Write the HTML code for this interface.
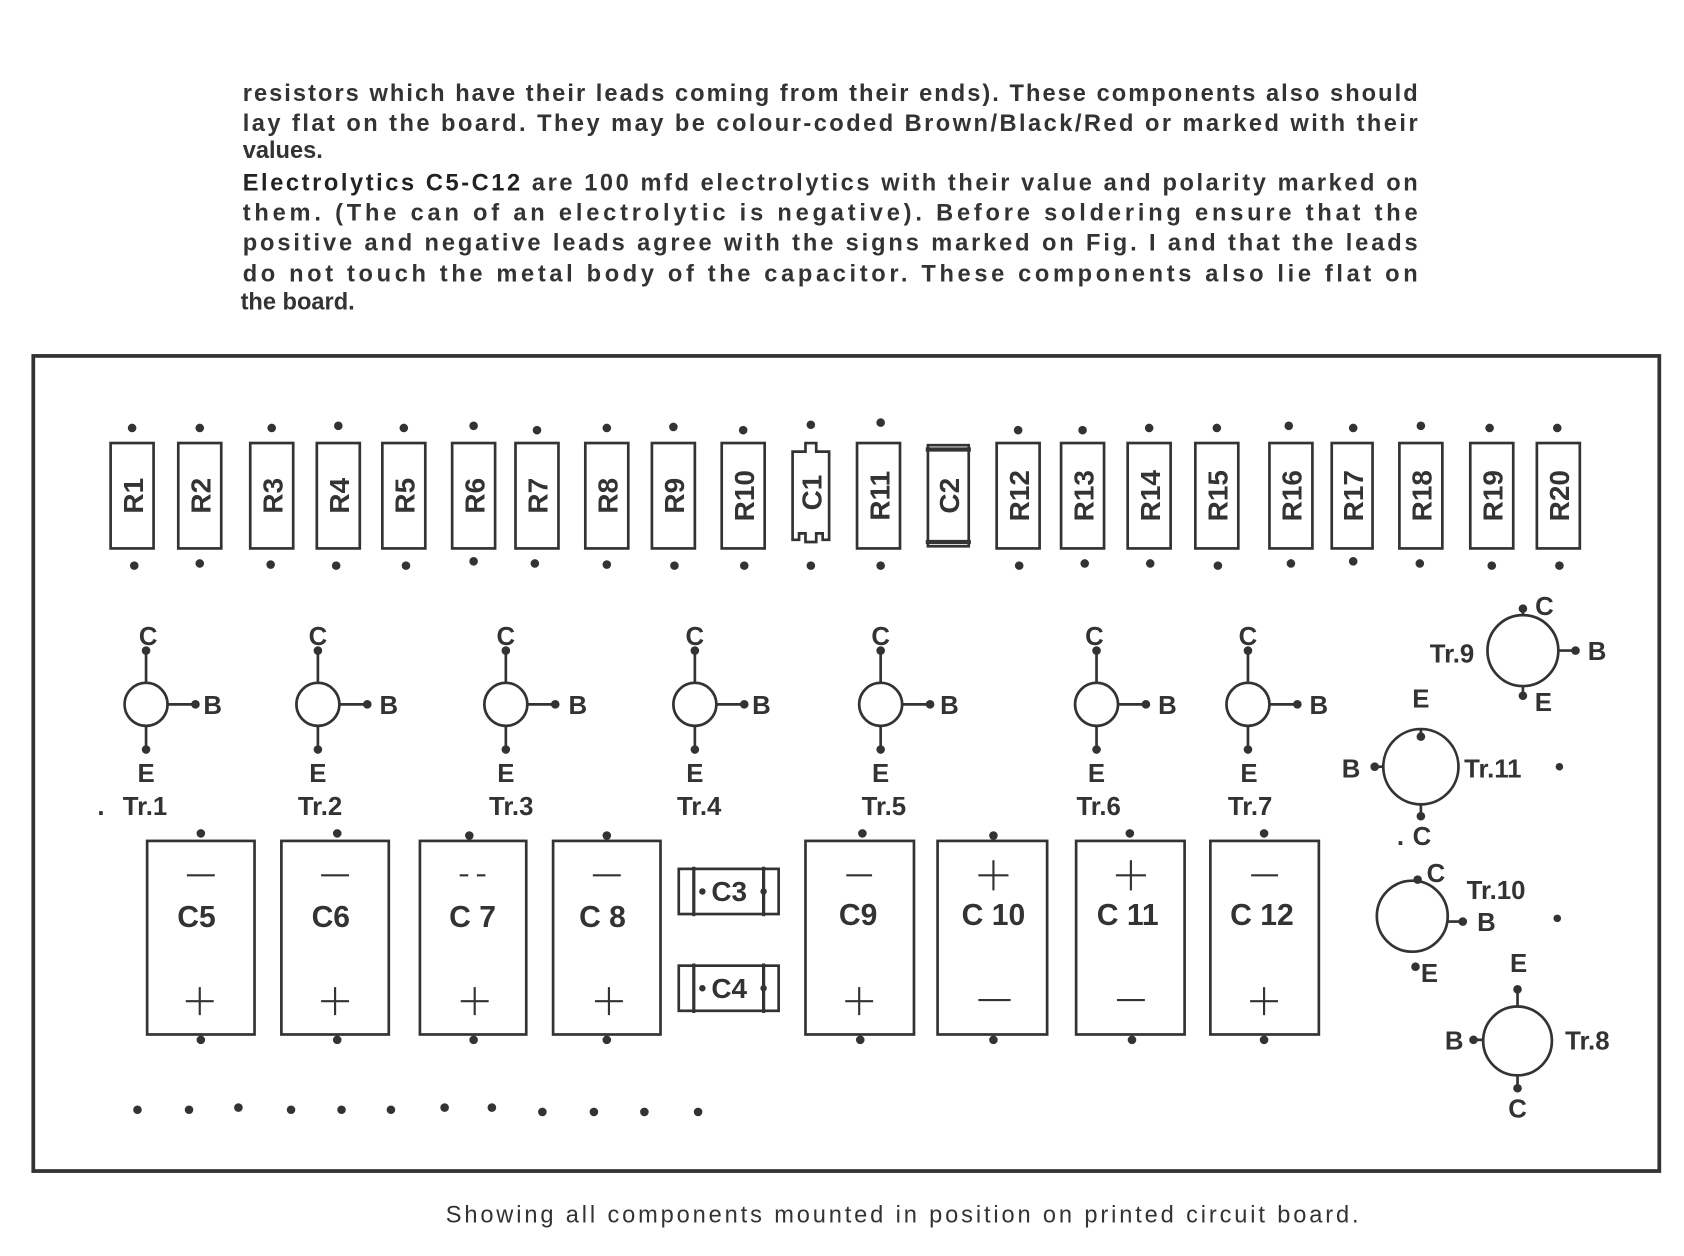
<!DOCTYPE html>
<html><head><meta charset="utf-8"><style>
html,body{margin:0;padding:0;background:#fff}
svg{display:block}
text{font-family:"Liberation Sans",sans-serif;fill:#333}
.p{font-size:22px;font-weight:bold;fill:#3a3a3a}
.l{font-size:26px;font-weight:bold;fill:#333;text-anchor:middle}
.t{font-size:24px;font-weight:bold;fill:#333;text-anchor:middle}
.s{font-size:30px;fill:#333;text-anchor:middle}
</style></head><body>
<svg width="1684" height="1256" viewBox="0 0 1568 1168" preserveAspectRatio="none" xmlns="http://www.w3.org/2000/svg">
<g class="p">
<text x="226" y="94" textLength="1094" lengthAdjust="spacing">resistors which have their leads coming from their ends).  These components also should</text>
<text x="226" y="122" textLength="1094" lengthAdjust="spacing">lay flat on the board.  They may be colour-coded Brown/Black/Red or marked with their</text>
<text x="226" y="147">values.</text>
<text x="226" y="177" textLength="1094" lengthAdjust="spacing"><tspan font-weight="900" fill="#222">Electrolytics C5-C12</tspan> are 100 mfd electrolytics with their value and polarity marked on</text>
<text x="226" y="205" textLength="1094" lengthAdjust="spacing">them.  (The can of an electrolytic is negative).  Before soldering ensure that the</text>
<text x="226" y="233" textLength="1094" lengthAdjust="spacing">positive and negative leads agree with the signs marked on Fig. I and that the leads</text>
<text x="226" y="262" textLength="1094" lengthAdjust="spacing">do not touch the metal body of the capacitor.  These components also lie flat on</text>
<text x="224" y="288">the board.</text>
</g>
<rect x="31" y="331" width="1514" height="758" fill="none" stroke="#333" stroke-width="3.5"/>
<text x="840" y="1137" style="font-size:22px;text-anchor:middle;fill:#333" textLength="850" lengthAdjust="spacing">Showing all components mounted in position on printed circuit board.</text>

<g fill="none" stroke="#333" stroke-width="2.5">
<rect x="103" y="412" width="40" height="98"/><rect x="166" y="412" width="40" height="98"/>
<rect x="233" y="412" width="40" height="98"/><rect x="295" y="412" width="40" height="98"/>
<rect x="356" y="412" width="40" height="98"/><rect x="421" y="412" width="40" height="98"/>
<rect x="480" y="412" width="40" height="98"/><rect x="545" y="412" width="40" height="98"/>
<rect x="607" y="412" width="40" height="98"/><rect x="672" y="412" width="40" height="98"/>
<path d="M738 420 h12 v-8 h10 v8 h12 v82 h-6 v-6 h-6 v8 h-10 v-8 h-6 v6 h-6 z"/>
<rect x="798" y="412" width="40" height="98"/>
<rect x="864" y="414" width="38" height="94"/>
<rect x="928" y="412" width="40" height="98"/><rect x="988" y="412" width="40" height="98"/>
<rect x="1050" y="412" width="40" height="98"/><rect x="1113" y="412" width="40" height="98"/>
<rect x="1182" y="412" width="40" height="98"/><rect x="1240" y="412" width="38" height="98"/>
<rect x="1303" y="412" width="40" height="98"/><rect x="1369" y="412" width="40" height="98"/>
<rect x="1431" y="412" width="40" height="98"/>
</g>
<g stroke="#333" stroke-width="4"><line x1="862" y1="418" x2="904" y2="418"/><line x1="862" y1="504" x2="904" y2="504"/></g>
<g class="l">
<text transform="translate(133,461) rotate(-90)">R1</text>
<text transform="translate(196,461) rotate(-90)">R2</text>
<text transform="translate(263,461) rotate(-90)">R3</text>
<text transform="translate(325,461) rotate(-90)">R4</text>
<text transform="translate(386,461) rotate(-90)">R5</text>
<text transform="translate(451,461) rotate(-90)">R6</text>
<text transform="translate(510,461) rotate(-90)">R7</text>
<text transform="translate(575,461) rotate(-90)">R8</text>
<text transform="translate(637,461) rotate(-90)">R9</text>
<text transform="translate(702,461) rotate(-90)">R10</text>
<text transform="translate(765,458) rotate(-90)">C1</text>
<text transform="translate(828,461) rotate(-90)">R11</text>
<text transform="translate(893,461) rotate(-90)">C2</text>
<text transform="translate(958,461) rotate(-90)">R12</text>
<text transform="translate(1018,461) rotate(-90)">R13</text>
<text transform="translate(1080,461) rotate(-90)">R14</text>
<text transform="translate(1143,461) rotate(-90)">R15</text>
<text transform="translate(1212,461) rotate(-90)">R16</text>
<text transform="translate(1269,461) rotate(-90)">R17</text>
<text transform="translate(1333,461) rotate(-90)">R18</text>
<text transform="translate(1399,461) rotate(-90)">R19</text>
<text transform="translate(1461,461) rotate(-90)">R20</text>
</g>
<g fill="#333">
<circle cx="123" cy="398" r="4"/><circle cx="186" cy="398" r="4"/><circle cx="253" cy="398" r="4"/><circle cx="315" cy="396" r="4"/><circle cx="376" cy="398" r="4"/><circle cx="441" cy="396" r="4"/><circle cx="500" cy="400" r="4"/><circle cx="565" cy="398" r="4"/><circle cx="627" cy="397" r="4"/><circle cx="692" cy="400" r="4"/><circle cx="755" cy="395" r="4"/><circle cx="820" cy="393" r="4"/><circle cx="948" cy="400" r="4"/><circle cx="1008" cy="400" r="4"/><circle cx="1070" cy="398" r="4"/><circle cx="1133" cy="398" r="4"/><circle cx="1200" cy="396" r="4"/><circle cx="1260" cy="398" r="4"/><circle cx="1323" cy="396" r="4"/><circle cx="1387" cy="398" r="4"/><circle cx="1450" cy="398" r="4"/>
<circle cx="125" cy="526" r="4"/><circle cx="186" cy="524" r="4"/><circle cx="252" cy="525" r="4"/><circle cx="313" cy="526" r="4"/><circle cx="378" cy="526" r="4"/><circle cx="441" cy="522" r="4"/><circle cx="498" cy="524" r="4"/><circle cx="565" cy="525" r="4"/><circle cx="628" cy="526" r="4"/><circle cx="693" cy="526" r="4"/><circle cx="755" cy="526" r="4"/><circle cx="820" cy="526" r="4"/><circle cx="949" cy="526" r="4"/><circle cx="1010" cy="524" r="4"/><circle cx="1071" cy="524" r="4"/><circle cx="1134" cy="526" r="4"/><circle cx="1202" cy="524" r="4"/><circle cx="1260" cy="522" r="4"/><circle cx="1322" cy="524" r="4"/><circle cx="1389" cy="526" r="4"/><circle cx="1452" cy="526" r="4"/>
</g>

<!-- small transistors -->
<g id="tr" fill="none" stroke="#333" stroke-width="2.5">
<circle cx="136" cy="655" r="20"/><line x1="136" y1="605" x2="136" y2="635"/><line x1="136" y1="675" x2="136" y2="697"/><line x1="156" y1="655" x2="180" y2="655"/>
<circle cx="296" cy="655" r="20"/><line x1="296" y1="605" x2="296" y2="635"/><line x1="296" y1="675" x2="296" y2="697"/><line x1="316" y1="655" x2="340" y2="655"/>
<circle cx="471" cy="655" r="20"/><line x1="471" y1="605" x2="471" y2="635"/><line x1="471" y1="675" x2="471" y2="697"/><line x1="491" y1="655" x2="515" y2="655"/>
<circle cx="647" cy="655" r="20"/><line x1="647" y1="605" x2="647" y2="635"/><line x1="647" y1="675" x2="647" y2="697"/><line x1="667" y1="655" x2="691" y2="655"/>
<circle cx="820" cy="655" r="20"/><line x1="820" y1="605" x2="820" y2="635"/><line x1="820" y1="675" x2="820" y2="697"/><line x1="840" y1="655" x2="864" y2="655"/>
<circle cx="1021" cy="655" r="20"/><line x1="1021" y1="605" x2="1021" y2="635"/><line x1="1021" y1="675" x2="1021" y2="697"/><line x1="1041" y1="655" x2="1065" y2="655"/>
<circle cx="1162" cy="655" r="20"/><line x1="1162" y1="605" x2="1162" y2="635"/><line x1="1162" y1="675" x2="1162" y2="697"/><line x1="1182" y1="655" x2="1206" y2="655"/>
<circle cx="1418" cy="605" r="33"/><line x1="1418" y1="565" x2="1418" y2="572"/><line x1="1418" y1="638" x2="1418" y2="647"/><line x1="1451" y1="605" x2="1466" y2="605"/>
<circle cx="1323" cy="713" r="35"/><line x1="1323" y1="678" x2="1323" y2="686"/><line x1="1323" y1="748" x2="1323" y2="760"/><line x1="1280" y1="713" x2="1288" y2="713"/>
<circle cx="1315" cy="852" r="33"/><line x1="1348" y1="857" x2="1362" y2="857"/>
<circle cx="1413" cy="968" r="32"/><line x1="1413" y1="920" x2="1413" y2="936"/><line x1="1413" y1="1000" x2="1413" y2="1012"/><line x1="1372" y1="967" x2="1381" y2="967"/>
</g>
<g fill="#333">
<circle cx="136" cy="605" r="4"/><circle cx="136" cy="697" r="4"/><circle cx="182" cy="655" r="4"/>
<circle cx="296" cy="605" r="4"/><circle cx="296" cy="697" r="4"/><circle cx="342" cy="655" r="4"/>
<circle cx="471" cy="605" r="4"/><circle cx="471" cy="697" r="4"/><circle cx="517" cy="655" r="4"/>
<circle cx="647" cy="605" r="4"/><circle cx="647" cy="697" r="4"/><circle cx="693" cy="655" r="4"/>
<circle cx="820" cy="605" r="4"/><circle cx="820" cy="697" r="4"/><circle cx="866" cy="655" r="4"/>
<circle cx="1021" cy="605" r="4"/><circle cx="1021" cy="697" r="4"/><circle cx="1067" cy="655" r="4"/>
<circle cx="1162" cy="605" r="4"/><circle cx="1162" cy="697" r="4"/><circle cx="1208" cy="655" r="4"/>
<circle cx="1418" cy="566" r="4"/><circle cx="1418" cy="647" r="4"/><circle cx="1467" cy="605" r="4"/>
<circle cx="1323" cy="685" r="4"/><circle cx="1323" cy="759" r="4"/><circle cx="1280" cy="713" r="4"/><circle cx="1452" cy="713" r="3.5"/>
<circle cx="1320" cy="818" r="4"/><circle cx="1318" cy="899" r="4"/><circle cx="1362" cy="857" r="4"/><circle cx="1450" cy="854" r="3.5"/>
<circle cx="1413" cy="920" r="4"/><circle cx="1413" cy="1012" r="4"/><circle cx="1372" cy="967" r="4"/>
</g>
<g class="t">
<text x="138" y="600">C</text><text x="136" y="727">E</text><text x="198" y="664">B</text><text x="135" y="758">Tr.1</text>
<text x="296" y="600">C</text><text x="296" y="727">E</text><text x="362" y="664">B</text><text x="298" y="758">Tr.2</text>
<text x="471" y="600">C</text><text x="471" y="727">E</text><text x="538" y="664">B</text><text x="476" y="758">Tr.3</text>
<text x="647" y="600">C</text><text x="647" y="727">E</text><text x="709" y="664">B</text><text x="651" y="758">Tr.4</text>
<text x="820" y="600">C</text><text x="820" y="727">E</text><text x="884" y="664">B</text><text x="823" y="758">Tr.5</text>
<text x="1019" y="600">C</text><text x="1021" y="727">E</text><text x="1087" y="664">B</text><text x="1023" y="758">Tr.6</text>
<text x="1162" y="600">C</text><text x="1163" y="727">E</text><text x="1228" y="664">B</text><text x="1164" y="758">Tr.7</text>
<text x="1438" y="572">C</text><text x="1487" y="614">B</text><text x="1437" y="661">E</text><text x="1352" y="616">Tr.9</text>
<text x="1323" y="658">E</text><text x="1258" y="723">B</text><text x="1390" y="723">Tr.11</text><text x="1324" y="786">C</text>
<text x="1337" y="820">C</text><text x="1384" y="866">B</text><text x="1331" y="913">E</text><text x="1393" y="836">Tr.10</text>
<text x="1414" y="904">E</text><text x="1354" y="976">B</text><text x="1478" y="976">Tr.8</text><text x="1413" y="1039">C</text>
</g>
<text x="94" y="758" class="t">.</text><text x="1304" y="786" class="t">.</text>

<!-- electrolytics -->
<g fill="none" stroke="#333" stroke-width="2.5">
<rect x="137" y="782" width="100" height="180"/><rect x="262" y="782" width="100" height="180"/>
<rect x="391" y="782" width="99" height="180"/><rect x="515" y="782" width="100" height="180"/>
<rect x="750" y="782" width="101" height="180"/><rect x="873" y="782" width="102" height="180"/>
<rect x="1002" y="782" width="101" height="180"/><rect x="1127" y="782" width="101" height="180"/>
<rect x="632" y="808" width="93" height="42"/><rect x="632" y="898" width="93" height="42"/>
</g>
<g stroke="#333" stroke-width="3">
<line x1="646" y1="806" x2="646" y2="852"/><line x1="711" y1="806" x2="711" y2="852"/>
<line x1="646" y1="896" x2="646" y2="942"/><line x1="711" y1="896" x2="711" y2="942"/>
</g>
<g stroke="#333" stroke-width="2">
<line x1="174" y1="814" x2="200" y2="814"/><line x1="299" y1="814" x2="325" y2="814"/>
<line x1="428" y1="814" x2="436" y2="814"/><line x1="444" y1="814" x2="452" y2="814"/>
<line x1="552" y1="814" x2="578" y2="814"/><line x1="788" y1="814" x2="812" y2="814"/>
<line x1="1165" y1="814" x2="1190" y2="814"/>
<line x1="911" y1="930" x2="941" y2="930"/><line x1="1040" y1="930" x2="1066" y2="930"/>
<path d="M186 918 v26 M173 931 h26 M312 918 v26 M299 931 h26 M442 918 v26 M429 931 h26 M567 918 v26 M554 931 h26 M800 918 v26 M787 931 h26 M1177 918 v26 M1164 931 h26 M925 800 v28 M911 814 h28 M1053 800 v28 M1039 814 h28"/>
</g>
<g class="l" style="font-size:28px">
<text x="183" y="862">C5</text><text x="308" y="862">C6</text><text x="440" y="862">C 7</text><text x="561" y="862">C 8</text>
<text x="679" y="838" style="font-size:26px">C3</text><text x="679" y="928" style="font-size:26px">C4</text>
<text x="799" y="860">C9</text><text x="925" y="860">C 10</text><text x="1050" y="860">C 11</text><text x="1175" y="860">C 12</text>
</g>
<g fill="#333">
<circle cx="187" cy="775" r="4"/><circle cx="314" cy="775" r="4"/><circle cx="437" cy="777" r="4"/><circle cx="565" cy="777" r="4"/><circle cx="803" cy="775" r="4"/><circle cx="925" cy="777" r="4"/><circle cx="1052" cy="775" r="4"/><circle cx="1177" cy="775" r="4"/>
<circle cx="187" cy="967" r="4"/><circle cx="314" cy="967" r="4"/><circle cx="441" cy="967" r="4"/><circle cx="565" cy="967" r="4"/><circle cx="801" cy="967" r="4"/><circle cx="925" cy="967" r="4"/><circle cx="1054" cy="967" r="4"/><circle cx="1177" cy="967" r="4"/>
<circle cx="654" cy="829" r="3"/><circle cx="711" cy="829" r="3"/><circle cx="654" cy="919" r="3"/><circle cx="711" cy="919" r="3"/>
<circle cx="128" cy="1032" r="4"/><circle cx="176" cy="1032" r="4"/><circle cx="222" cy="1030" r="4"/><circle cx="271" cy="1032" r="4"/><circle cx="318" cy="1032" r="4"/><circle cx="364" cy="1032" r="4"/><circle cx="414" cy="1030" r="4"/><circle cx="458" cy="1030" r="4"/><circle cx="505" cy="1034" r="4"/><circle cx="553" cy="1034" r="4"/><circle cx="600" cy="1034" r="4"/><circle cx="650" cy="1034" r="4"/>
</g>
</svg>
</body></html>
